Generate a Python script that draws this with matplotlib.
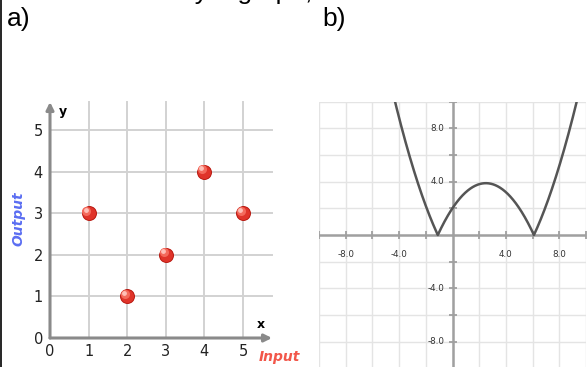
import matplotlib
matplotlib.use('Agg')
import matplotlib.pyplot as plt
from matplotlib.lines import Line2D
import numpy as np

# a) input / output points
inputs = [1, 2, 3, 4, 5]
outputs = [3, 1, 2, 4, 3]
ticks_a = [0, 1, 2, 3, 4, 5]

# b) curve y = |k (x - r1)(x - r2)|
root_left = -1.1
root_right = 6.1
scale_k = 0.30
ticks_b = [-8, -4, 4, 8]
tick_labels_b = ['-8.0', '-4.0', '4.0', '8.0']

W, H = 587, 367
fig = plt.figure(figsize=(W / 100, H / 100), dpi=100)


def px_axes(left, right, top, bottom):
    # axes placed from pixel coordinates (origin top-left)
    return fig.add_axes([left / W, 1 - bottom / H, (right - left) / W, (bottom - top) / H])


def hide_frame(ax):
    for s in ax.spines.values():
        s.set_visible(False)
    ax.patch.set_visible(False)


# ---------------- panel a ----------------
axa = px_axes(50, 272, 102, 338)
xmax_a, ymax_a = 5.75, 5.67
axa.set_xlim(0, xmax_a)
axa.set_ylim(0, ymax_a)
hide_frame(axa)

grid_c = '#d2d2d2'
for v in ticks_a[1:]:
    axa.plot([v, v], [0, ymax_a], color=grid_c, lw=1.4, zorder=1, clip_on=False)
    axa.plot([0, xmax_a], [v, v], color=grid_c, lw=1.4, zorder=1, clip_on=False)

axis_c = '#8a8a8a'
arrow = dict(arrowstyle='-|>', color=axis_c, lw=2.2, mutation_scale=11, shrinkA=0, shrinkB=0)
axa.annotate('', xy=(xmax_a, 0), xytext=(0, 0), arrowprops=arrow, zorder=2, annotation_clip=False)
axa.annotate('', xy=(0, ymax_a), xytext=(0, 0), arrowprops=arrow, zorder=2, annotation_clip=False)

axa.set_xticks(ticks_a)
axa.set_xticklabels([str(t) for t in ticks_a])
axa.set_yticks(ticks_a)
axa.set_yticklabels([str(t) for t in ticks_a])
axa.tick_params(length=0, labelsize=10.5, colors='#222222')
axa.tick_params(axis='x', pad=4)
axa.tick_params(axis='y', pad=5)

# shaded red balls
axa.scatter(inputs, outputs, s=95, color='#b81810', zorder=3, clip_on=False)
axa.scatter(inputs, outputs, s=70, color='#e0342a', zorder=4, clip_on=False)
hx = np.array(inputs) - 0.06
hy = np.array(outputs) + 0.06
axa.scatter(hx, hy, s=30, color='#f46a5c', zorder=5, clip_on=False)
axa.scatter(hx - 0.02, hy + 0.02, s=6, color='#ffc0b8', zorder=6, clip_on=False)

axa.text(0.33, 5.45, 'y', fontsize=9, fontweight='bold', ha='center', va='center')
axa.text(5.45, 0.33, 'x', fontsize=9, fontweight='bold', ha='center', va='center')
fig.text(19 / W, 1 - 219 / H, 'Output', rotation=90, color='#5b6ef2', fontsize=10,
         fontweight='bold', fontstyle='italic', ha='center', va='center')
fig.text(279 / W, 1 - 357 / H, 'Input', color='#f2574a', fontsize=10,
         fontweight='bold', fontstyle='italic', ha='center', va='center')

# ---------------- panel b ----------------
axb = px_axes(319, 586, 101.7, 368.3)
axb.set_xlim(-10, 10)
axb.set_ylim(-10, 10)
hide_frame(axb)
axb.set_xticks([])
axb.set_yticks([])

grid_b = np.arange(-10, 11, 2)
for v in grid_b:
    axb.axvline(v, color='#e4e4e4', lw=1.0, zorder=1)
    axb.axhline(v, color='#e4e4e4', lw=1.0, zorder=1)

axis_b = '#a0a0a0'
axb.axhline(0, color=axis_b, lw=1.8, zorder=2)
axb.axvline(0, color=axis_b, lw=1.8, zorder=2)
marks = grid_b[grid_b != 0]
axb.plot(marks, np.zeros_like(marks), ls='none', marker='|', ms=6, mew=1.3, color=axis_b, zorder=2)
axb.plot(np.zeros_like(marks), marks, ls='none', marker='_', ms=6, mew=1.3, color=axis_b, zorder=2)

for t, lab in zip(ticks_b, tick_labels_b):
    axb.text(t, -1.45, lab, fontsize=6.3, color='#333333', ha='center', va='center')
    axb.text(-0.6, t, lab, fontsize=6.3, color='#333333', ha='right', va='center')

xs = np.linspace(-10, 10, 1201)
ys = np.abs(scale_k * (xs - root_left) * (xs - root_right))
axb.plot(xs, ys, color='#555555', lw=1.8, zorder=3)

# ---------------- labels / frame ----------------
fig.text(7 / W, 1 - 19 / H, 'a)', fontsize=19, family='Liberation Sans', va='center', ha='left')
fig.text(322 / W, 1 - 19 / H, 'b)', fontsize=19, family='Liberation Sans', va='center', ha='left')
fig.text(312 / W, 1 + 0.5 / H, 'Decide which relation is a function by a graph,', fontsize=19,
         family='Liberation Sans', va='baseline', ha='right')
fig.add_artist(Line2D([1 / W, 1 / W], [0, 1], color='black', lw=1.2))

fig.savefig('out.png', dpi=100)
